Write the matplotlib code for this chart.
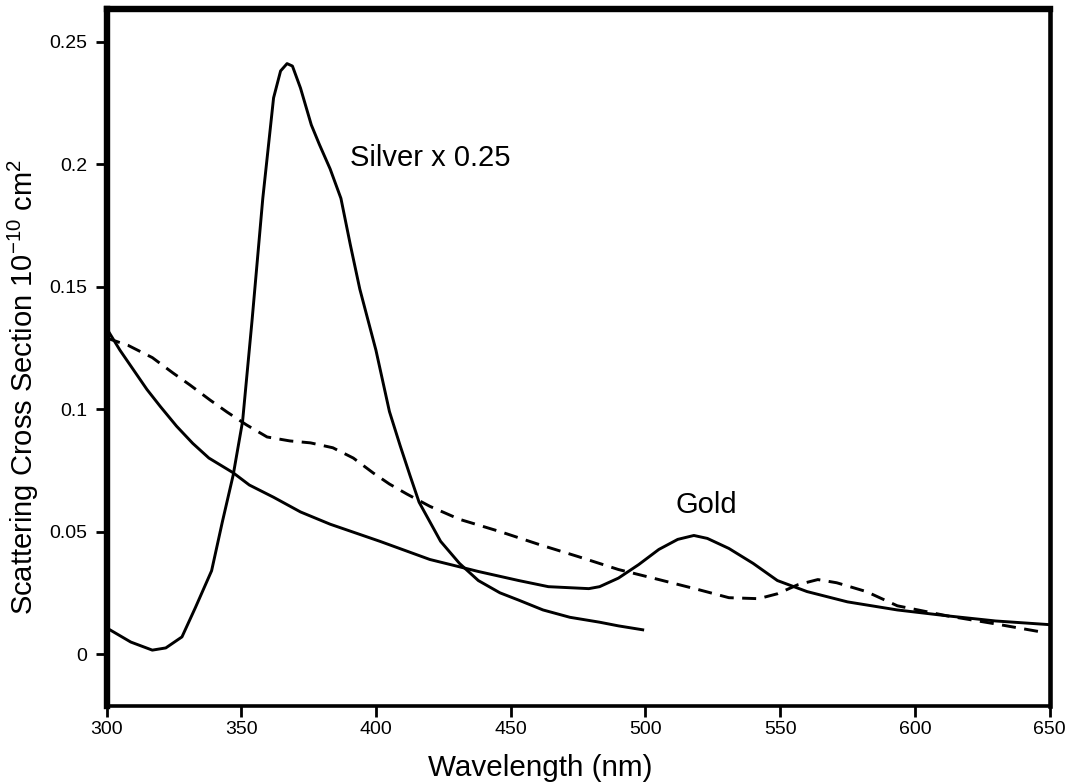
import matplotlib
matplotlib.use("Agg")
import matplotlib.pyplot as plt

plt.rcParams['font.family'] = ['Liberation Sans', 'DejaVu Sans']
plt.rcParams['mathtext.fontset'] = 'custom'
plt.rcParams['mathtext.rm'] = 'Liberation Sans'
plt.rcParams['mathtext.it'] = 'Liberation Sans'

# silver (scaled x 0.25), solid
silver_wl = [300, 309, 317, 322, 328, 333, 339, 343, 347, 350.5, 354, 358, 362, 364.6,
             367, 369, 372, 376, 379, 383, 387, 390.5, 394, 400, 405, 409, 412.6, 416,
             424, 431, 438, 446, 453, 462, 472, 483, 490, 499]
silver_cs = [0.0107, 0.0049, 0.0016, 0.0025, 0.007, 0.019, 0.034, 0.054, 0.073, 0.095,
             0.136, 0.186, 0.227, 0.238, 0.241, 0.240, 0.231, 0.216, 0.208, 0.198, 0.186,
             0.167, 0.149, 0.124, 0.099, 0.085, 0.073, 0.062, 0.046, 0.037, 0.030, 0.025,
             0.022, 0.018, 0.015, 0.013, 0.0115, 0.0099]

# gold, solid
gold_wl = [300, 305, 310, 315, 320, 326, 332, 338, 347, 353, 362, 372, 383, 401.5, 420,
           438, 453, 464, 479, 483, 490, 497.5, 505, 512, 518, 523, 531, 540, 549, 560,
           575, 593.5, 612, 630, 650]
gold_cs = [0.133, 0.124, 0.116, 0.108, 0.101, 0.093, 0.086, 0.080, 0.074, 0.069, 0.064,
           0.058, 0.053, 0.046, 0.0386, 0.0337, 0.030, 0.0275, 0.0267, 0.0275, 0.031,
           0.0365, 0.0427, 0.0468, 0.0484, 0.0472, 0.0431, 0.037, 0.030, 0.0255, 0.0213,
           0.018, 0.0156, 0.0135, 0.012]

# dashed curve
dash_wl = [300, 308, 317, 324.7, 331, 338.4, 344.7, 352, 359.6, 368, 375.7, 384, 391.6,
           399, 405, 411.5, 420, 431, 446, 460.6, 475, 490, 505, 519.7, 531, 542, 549,
           556.6, 564, 571, 582, 593.5, 612, 630, 647]
dash_cs = [0.129, 0.126, 0.121, 0.1147, 0.1098, 0.1037, 0.0988, 0.0935, 0.0886, 0.0870,
           0.0862, 0.0842, 0.080, 0.0739, 0.0694, 0.0653, 0.0603, 0.055, 0.050, 0.0447,
           0.0398, 0.0345, 0.0304, 0.0263, 0.023, 0.0226, 0.0246, 0.0283, 0.0304, 0.0291,
           0.0255, 0.0197, 0.0156, 0.0123, 0.009]

x_ticks = [300, 350, 400, 450, 500, 550, 600, 650]
y_ticks = [0, 0.05, 0.1, 0.15, 0.2, 0.25]
y_tick_labels = ['0', '0.05', '0.1', '0.15', '0.2', '0.25']

fig = plt.figure(figsize=(10.76, 7.82), dpi=100)
ax = fig.add_axes([0.099, 0.0972, 0.8764, 0.8907])

ax.plot(silver_wl, silver_cs, color='black', lw=2.1)
ax.plot(gold_wl, gold_cs, color='black', lw=2.1)
ax.plot(dash_wl, dash_cs, color='black', lw=2.1, dashes=(4.8, 2.9))

ax.text(390.4, 0.1993, 'Silver x 0.25', fontsize=21, va='baseline', ha='left')
ax.text(522.5, 0.0576, 'Gold', fontsize=21, va='baseline', ha='center')

ax.set_xlim(300, 650)
ax.set_ylim(-0.0212, 0.2631)
ax.set_xticks(x_ticks)
ax.set_yticks(y_ticks)
ax.set_yticklabels(y_tick_labels)
ax.tick_params(direction='out', length=8, width=2, labelsize=14)
ax.tick_params(axis='x', pad=3)
ax.tick_params(axis='y', pad=6)

ax.spines['top'].set_linewidth(4.6)
ax.spines['left'].set_linewidth(4.6)
ax.spines['right'].set_linewidth(3.3)
ax.spines['bottom'].set_linewidth(2.6)

# axis titles sit a little off-centre in the original
fig.text(540 / 1076, 1 - 775.7 / 782, 'Wavelength (nm)', fontsize=21.3,
         ha='center', va='baseline')
fig.text(33 / 1076, 1 - 387 / 782, r'Scattering Cross Section 10$^{-10}$ cm$^{2}$',
         fontsize=21, rotation=90, rotation_mode='anchor', ha='center', va='baseline')

fig.savefig('out.png', dpi=100)
